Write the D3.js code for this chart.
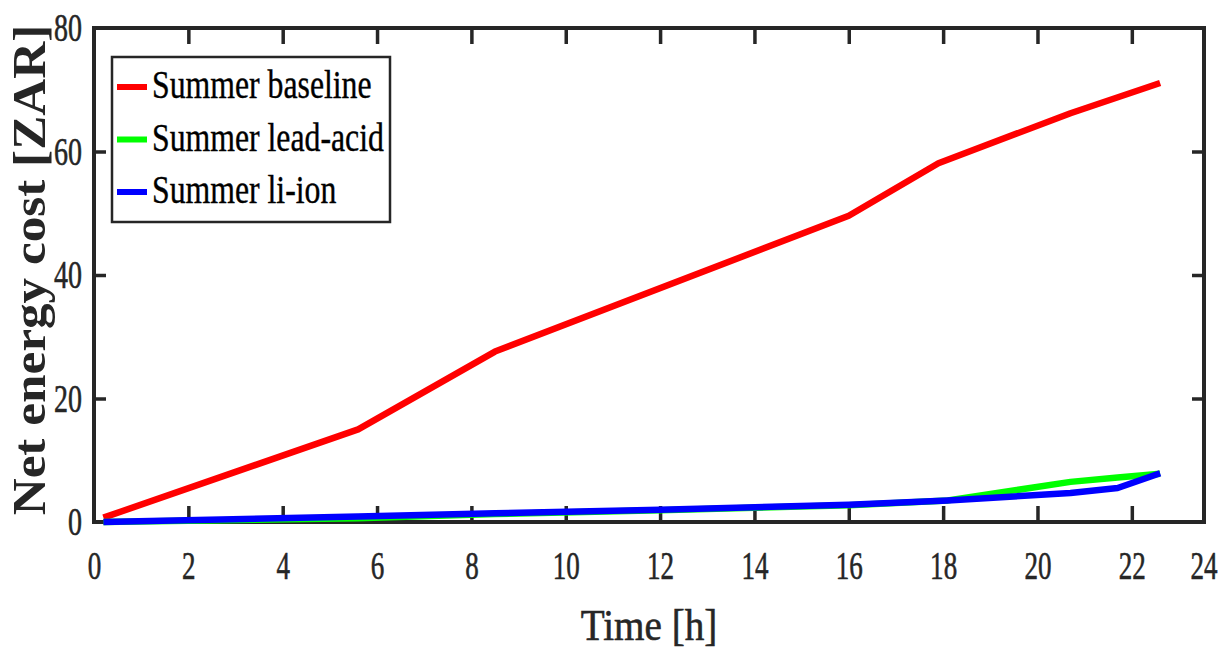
<!DOCTYPE html>
<html>
<head>
<meta charset="utf-8">
<script src="https://cdn.jsdelivr.net/npm/d3@7"></script>
<style>
  body { margin: 0; background: #fff; }
  text { font-family: "Liberation Serif", "Times New Roman", serif; fill: #262626; }
  .heavy { stroke: #262626; stroke-width: 0.6px; }
</style>
</head>
<body>
<svg id="chart" width="1224" height="652"></svg>
<script>
// data
const timeBaseline = [0.2, 5.6, 8.5, 16.0, 17.9, 20.7, 22.6];
const costBaseline = [0.7, 15.0, 27.6, 49.6, 58.1, 66.2, 71.1];

const timeLeadAcid = [0.2, 5.6, 8.5, 12.0, 16.0, 18.1, 20.7, 21.7, 22.6];
const costLeadAcid = [0.0, 0.6, 1.3, 1.9, 2.7, 3.5, 6.5, 7.2, 7.8];

const timeLiIon = [0.2, 5.6, 8.5, 12.0, 16.0, 18.1, 20.7, 21.7, 22.6];
const costLiIon = [0.0, 0.9, 1.4, 2.0, 2.8, 3.5, 4.7, 5.5, 7.9];

const seriesNames = ["Summer baseline", "Summer lead-acid", "Summer li-ion"];
const seriesColors = ["#ff0000", "#00ff00", "#0000ff"];

const xTicks = [0, 2, 4, 6, 8, 10, 12, 14, 16, 18, 20, 22];
const xEndLabel = "24";
const yTicks = [0, 20, 40, 60, 80];
const xMax = 23.53;

const svg = d3.select("#chart");

const plotLeft = 94, plotRight = 1204, plotTop = 28, plotBottom = 522;
const frameColor = "#262626";

const x = d3.scaleLinear().domain([0, xMax]).range([plotLeft, plotRight]);
const y = d3.scaleLinear().domain([0, 80]).range([plotBottom, plotTop]);

// axes, ticks pointing inward
const xAxis = svg.append("g")
    .attr("transform", `translate(0,${plotBottom})`)
    .call(d3.axisBottom(x).tickValues(xTicks).tickSizeInner(-16).tickSizeOuter(0).tickPadding(28));

const xAxisTop = svg.append("g")
    .attr("transform", `translate(0,${plotTop})`)
    .call(d3.axisTop(x).tickValues(xTicks.slice(1)).tickSizeInner(-16).tickSizeOuter(0).tickFormat(""));

const yAxis = svg.append("g")
    .attr("transform", `translate(${plotLeft},0)`)
    .call(d3.axisLeft(y).tickValues(yTicks).tickSizeInner(-12).tickSizeOuter(0).tickPadding(12));

const yAxisRight = svg.append("g")
    .attr("transform", `translate(${plotRight},0)`)
    .call(d3.axisRight(y).tickValues(yTicks.slice(1, -1)).tickSizeInner(-12).tickSizeOuter(0).tickFormat(""));

[xAxis, xAxisTop, yAxis, yAxisRight].forEach(g => {
    g.select(".domain").remove();
    g.selectAll(".tick line").attr("stroke", frameColor).attr("stroke-width", 3.5);
});

xAxis.selectAll(".tick line").filter(d => d === 0).remove();
yAxis.selectAll(".tick line").filter(d => d === 0 || d === 80).remove();

xAxis.selectAll("text")
    .attr("class", "heavy")
    .style("font-size", "41px")
    .attr("transform", "scale(0.66,1)");

yAxis.selectAll("text")
    .attr("class", "heavy")
    .style("font-size", "40px")
    .attr("x", 0)
    .attr("transform", "translate(-12,0) scale(0.7,1)");

// the lone "24" at the right edge
svg.append("text")
    .attr("class", "heavy")
    .attr("text-anchor", "middle")
    .style("font-size", "41px")
    .attr("transform", `translate(${x(xMax)},${plotBottom + 28}) scale(0.66,1)`)
    .attr("dy", "0.71em")
    .text(xEndLabel);

// frame
svg.append("rect")
    .attr("x", plotLeft).attr("y", plotTop)
    .attr("width", plotRight - plotLeft).attr("height", plotBottom - plotTop)
    .attr("fill", "none")
    .attr("stroke", frameColor)
    .attr("stroke-width", 4);

// lines
const line = d3.line().x(d => x(d[0])).y(d => y(d[1]));
const series = [
    d3.zip(timeBaseline, costBaseline),
    d3.zip(timeLeadAcid, costLeadAcid),
    d3.zip(timeLiIon, costLiIon)
];

svg.append("g")
    .selectAll("path")
    .data(series)
    .enter()
    .append("path")
    .attr("d", line)
    .attr("fill", "none")
    .attr("stroke", (d, i) => seriesColors[i])
    .attr("stroke-width", 6.5)
    .attr("stroke-linejoin", "round");

// axis titles
svg.append("text")
    .attr("class", "heavy")
    .attr("text-anchor", "middle")
    .style("font-size", "45px")
    .attr("transform", "translate(649,640) scale(0.87,1)")
    .text("Time [h]");

svg.append("text")
    .attr("text-anchor", "middle")
    .style("font-size", "47px")
    .style("font-weight", "bold")
    .attr("transform", "translate(45,270) rotate(-90) scale(1.09,1)")
    .text("Net energy cost [ZAR]");

// legend
const legend = svg.append("g").attr("transform", "translate(112,57)");

legend.append("rect")
    .attr("width", 278).attr("height", 165)
    .attr("fill", "#fff")
    .attr("stroke", frameColor)
    .attr("stroke-width", 2.5);

const rows = legend.selectAll("g.row")
    .data(seriesNames)
    .enter()
    .append("g")
    .attr("class", "row")
    .attr("transform", (d, i) => `translate(0,${30 + i * 52.5})`);

rows.append("line")
    .attr("x1", 5).attr("x2", 35)
    .attr("stroke", (d, i) => seriesColors[i])
    .attr("stroke-width", 6);

rows.append("text")
    .style("font-size", "41px")
    .style("fill", "#000")
    .style("stroke", "#000")
    .style("stroke-width", "0.4px")
    .attr("transform", "translate(40,11) scale(0.775,1)")
    .text(d => d);
</script>
</body>
</html>
